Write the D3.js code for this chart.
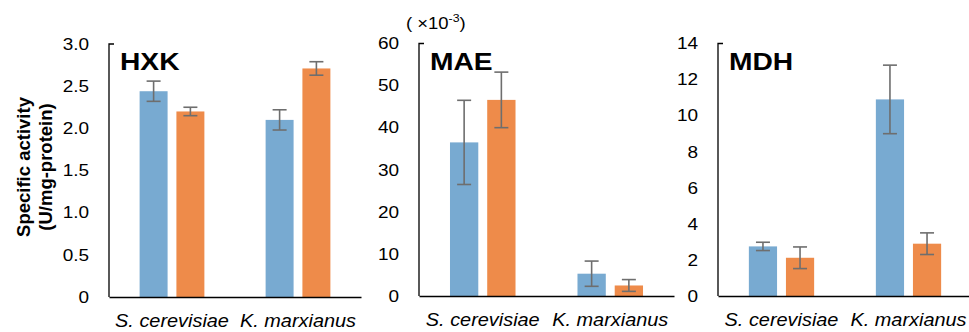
<!DOCTYPE html>
<html>
<head>
<meta charset="utf-8">
<script src="https://cdn.jsdelivr.net/npm/d3@7"></script>
<style>
  body { margin: 0; background: #fff; }
  text { font-family: "Liberation Sans", Arial, sans-serif; }
</style>
</head>
<body>
<svg id="grafico"></svg>
<script>
// datos
const especies = ["S. cerevisiae", "K. marxianus"];
const enzimas = ["HXK", "MAE", "MDH"];

// serie azul y naranja, con su error
const hxkAzul = [2.44, 2.10];
const hxkAzulErr = [0.12, 0.12];
const hxkNaranja = [2.20, 2.71];
const hxkNaranjaErr = [0.05, 0.08];

const maeAzul = [36.5, 5.3];
const maeAzulErr = [10.0, 3.0];
const maeNaranja = [46.6, 2.5];
const maeNaranjaErr = [6.6, 1.4];

const mdhAzul = [2.75, 10.9];
const mdhAzulErr = [0.23, 1.9];
const mdhNaranja = [2.12, 2.9];
const mdhNaranjaErr = [0.6, 0.6];

const ticksHxk = [0, 0.5, 1.0, 1.5, 2.0, 2.5, 3.0];
const ticksMae = [0, 10, 20, 30, 40, 50, 60];
const ticksMdh = [0, 2, 4, 6, 8, 10, 12, 14];

const WIDTH = 969;
const HEIGHT = 332;
const AZUL = "#78aad1";
const NARANJA = "#ee8b4a";

const svg = d3.select("#grafico")
    .attr("width", WIDTH)
    .attr("height", HEIGHT);

// el original esta algo estirado a lo ancho, asi que estiramos los textos igual
const estirar = (sel, sx) => {
    sel.each(function () {
        const t = d3.select(this);
        const x = +t.attr("x") || 0;
        t.attr("x", x / sx);
        const tr = t.attr("transform") || "";
        t.attr("transform", `${tr} scale(${sx},1)`);
    });
};

// cada panel con su espacio en pixeles
const paneles = [
    { nombre: "HXK", x0: 109, x1: 361, yTop: 44, yBase: 297, max: 3, ticks: ticksHxk, fmt: d => d === 0 ? "0" : d3.format(".1f")(d),
      azul: hxkAzul, azulErr: hxkAzulErr, naranja: hxkNaranja, naranjaErr: hxkNaranjaErr },
    { nombre: "MAE", x0: 419, x1: 674, yTop: 43.5, yBase: 296, max: 60, ticks: ticksMae, fmt: d3.format("d"),
      azul: maeAzul, azulErr: maeAzulErr, naranja: maeNaranja, naranjaErr: maeNaranjaErr },
    { nombre: "MDH", x0: 718, x1: 972, yTop: 43.5, yBase: 296, max: 14, ticks: ticksMdh, fmt: d3.format("d"),
      azul: mdhAzul, azulErr: mdhAzulErr, naranja: mdhNaranja, naranjaErr: mdhNaranjaErr }
];

paneles.forEach(p => {
    const g = svg.append("g");

    const escalaX = d3.scaleBand()
        .domain(especies)
        .range([p.x0, p.x1]);

    const escalaY = d3.scaleLinear()
        .domain([0, p.max])
        .range([p.yBase, p.yTop]);

    const anchoBarra = escalaX.bandwidth() * 0.222;
    const hueco = escalaX.bandwidth() * 0.07;

    // barras
    const series = [
        { vals: p.azul, err: p.azulErr, color: AZUL, dx: -hueco / 2 - anchoBarra },
        { vals: p.naranja, err: p.naranjaErr, color: NARANJA, dx: hueco / 2 }
    ];

    series.forEach(s => {
        const datos = especies.map((e, i) => ({ e: e, v: s.vals[i], err: s.err[i] }));
        const izq = d => escalaX(d.e) + escalaX.bandwidth() / 2 + s.dx;
        const medio = d => izq(d) + anchoBarra / 2;

        g.selectAll(null)
            .data(datos)
            .join("rect")
            .attr("x", izq)
            .attr("y", d => escalaY(d.v))
            .attr("width", anchoBarra)
            .attr("height", d => escalaY(0) - escalaY(d.v))
            .attr("fill", s.color);

        // barras de error
        const err = g.selectAll(null)
            .data(datos)
            .join("g")
            .attr("stroke", "#6e6e6e")
            .attr("stroke-width", 1.6);
        err.append("line")
            .attr("x1", medio)
            .attr("x2", medio)
            .attr("y1", d => escalaY(d.v + d.err))
            .attr("y2", d => escalaY(d.v - d.err));
        [1, -1].forEach(signo => {
            err.append("line")
                .attr("x1", d => medio(d) - 7)
                .attr("x2", d => medio(d) + 7)
                .attr("y1", d => escalaY(d.v + signo * d.err))
                .attr("y2", d => escalaY(d.v + signo * d.err));
        });
    });

    // eje y
    const ejeY = d3.axisLeft(escalaY)
        .tickValues(p.ticks)
        .tickFormat(p.fmt)
        .tickSize(0)
        .tickPadding(20);
    const gy = g.append("g")
        .attr("transform", `translate(${p.x0},0)`)
        .call(ejeY);
    gy.select(".domain").remove();
    gy.selectAll("text")
        .attr("font-size", 16.5)
        .attr("font-family", "Liberation Sans, Arial, sans-serif")
        .attr("fill", "#000")
        .call(estirar, 1.15);

    g.append("path")
        .attr("d", `M${p.x0 + 5},${p.yTop}H${p.x0}V${p.yBase}`)
        .attr("fill", "none")
        .attr("stroke", "#000")
        .attr("stroke-width", 1.3);

    // eje x
    const ejeX = d3.axisBottom(escalaX)
        .tickSize(0)
        .tickPadding(17);
    const gx = g.append("g")
        .attr("transform", `translate(0,${p.yBase})`)
        .call(ejeX);
    gx.select(".domain")
        .attr("stroke", "#000")
        .attr("stroke-width", 1.3);
    gx.selectAll("text")
        .attr("font-size", 18.6)
        .attr("font-style", "italic")
        .attr("font-family", "Liberation Sans, Arial, sans-serif")
        .attr("fill", "#000")
        .call(estirar, 1.07);

    // nombre de la enzima
    g.append("text")
        .attr("x", p.x0 + 11)
        .attr("y", 70)
        .attr("font-size", 23.5)
        .attr("font-weight", "bold")
        .text(p.nombre)
        .call(estirar, 1.2);
});

// titulo del eje y
const tituloY = svg.append("text")
    .attr("transform", "translate(0,167) rotate(-90)")
    .attr("text-anchor", "middle")
    .attr("font-size", 18.5)
    .attr("font-weight", "bold");
tituloY.append("tspan").attr("x", 0).attr("y", 30).text("Specific activity");
tituloY.append("tspan").attr("x", 0).attr("y", 52).text("(U/mg-protein)");

// unidad del panel MAE
const unidad = svg.append("text")
    .attr("x", 406)
    .attr("y", 29)
    .attr("font-size", 16.5);
unidad.append("tspan").text("( ×10");
unidad.append("tspan").attr("font-size", 11).attr("dy", -7).text("-3");
unidad.append("tspan").attr("dy", 7).text(")");
unidad.call(estirar, 1.12);
</script>
</body>
</html>
